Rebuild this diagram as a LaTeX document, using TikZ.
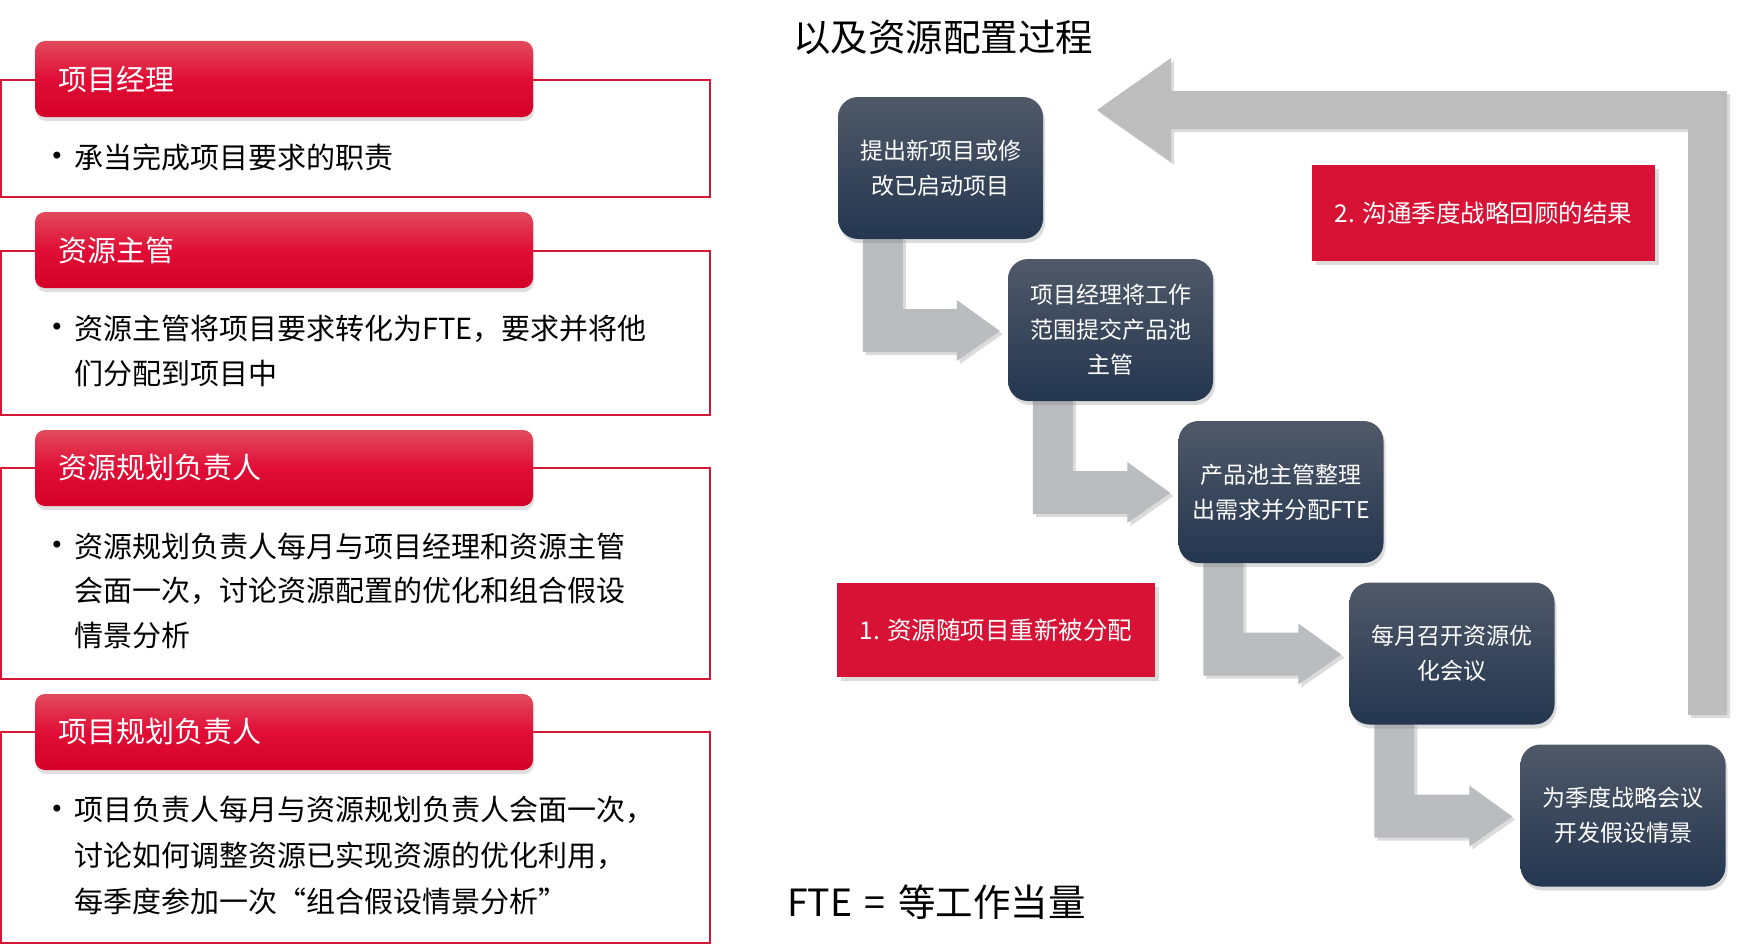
\documentclass[tikz,border=0pt]{standalone}
\usepackage{fontspec}
\setmainfont{Noto Sans CJK SC}
\newfontfamily\dejavu{DejaVu Sans}
\usetikzlibrary{shadows,calc}
\pgfdeclarelayer{background}
\pgfsetlayers{background,main}
\definecolor{hdrtop}{RGB}{226,74,92}
\definecolor{hdrmid}{RGB}{224,14,54}
\definecolor{hdrbot}{RGB}{212,0,40}
\definecolor{boxtop}{RGB}{80,89,104}
\definecolor{boxbot}{RGB}{36,54,80}
\definecolor{labred}{RGB}{215,18,53}
\definecolor{panelred}{RGB}{210,24,52}
\definecolor{biggrey}{RGB}{189,189,189}
\definecolor{elbowgrey}{RGB}{187,188,191}
\tikzset{
  panelbox/.style={draw=panelred, line width=1.2pt, fill=white, inner sep=0},
  hdr/.style={rounded corners=10pt, top color=hdrtop, bottom color=hdrbot, middle color=hdrmid,
    inner sep=0, minimum width=498pt, minimum height=76pt,
    drop shadow={shadow xshift=1pt, shadow yshift=-4pt, opacity=.25}},
  hdrtext/.style={inner sep=0, anchor=west, text=white, font=\fontsize{29pt}{34pt}\selectfont},
  bodytext/.style={inner sep=0, anchor=west, text=black, font=\fontsize{29pt}{34pt}\selectfont},
  bulletdot/.style={inner sep=0, text=black, font=\dejavu\fontsize{24pt}{28pt}\selectfont},
  dbox/.style={rounded corners=20pt, top color=boxtop, bottom color=boxbot, inner sep=0,
    minimum width=205pt, minimum height=142pt, text=white, align=center,
    font=\fontsize{23pt}{35pt}\selectfont,
    drop shadow={shadow xshift=2pt, shadow yshift=-4pt, opacity=.28}},
  labbox/.style={fill=labred, inner sep=0, text=white, align=center,
    font=\fontsize{24.5pt}{30pt}\selectfont,
    drop shadow={shadow xshift=4pt, shadow yshift=-4pt, opacity=.28}},
  bigtext/.style={inner sep=0, anchor=west, text=black, font=\fontsize{37.5pt}{44pt}\selectfont},
  greyshadow/.style={drop shadow={shadow xshift=3pt, shadow yshift=-3pt, opacity=.28}}
}
\newcommand\myelbow[2]{%
  \fill[elbowgrey, greyshadow] let \p1=(#1.south west), \p2=(#2.west) in
    (\x1+25pt,\y1+2pt) -- (\x1+65pt,\y1+2pt) -- (\x1+65pt,\y2+21pt) --
    (\x2-51pt,\y2+21pt) -- (\x2-51pt,\y2+30pt) -- (\x2-8pt,\y2-1pt) --
    (\x2-51pt,\y2-31pt) -- (\x2-51pt,\y2-22pt) -- (\x1+25pt,\y2-22pt) -- cycle;}
\begin{document}
\begin{tikzpicture}[x=1pt,y=-1pt]
\useasboundingbox (0,0) rectangle (1740,950);
\begin{pgfonlayer}{background}
\fill[white] (0,0) rectangle (1740,950);
\end{pgfonlayer}

% ---------- left panels ----------
\node[panelbox, minimum width=709pt, minimum height=117pt] (p1) at (355.5,138.5) {};
\node[hdr] (h1) at (284,79) {};
\node[hdrtext] (h1t) at (58,79) {项目经理};
\node[bulletdot] (p1d) at (57,158) {•};
\node[bodytext] (p1l1) at (74,157) {承当完成项目要求的职责};

\node[panelbox, minimum width=709pt, minimum height=164pt] (p2) at (355.5,333) {};
\node[hdr] (h2) at (284,250) {};
\node[hdrtext] (h2t) at (58,250) {资源主管};
\node[bulletdot] (p2d) at (57,329.5) {•};
\node[bodytext] (p2l1) at (74,328.5) {资源主管将项目要求转化为FTE，要求并将他};
\node[bodytext] (p2l2) at (74,373.5) {们分配到项目中};

\node[panelbox, minimum width=709pt, minimum height=211pt] (p3) at (355.5,573.5) {};
\node[hdr] (h3) at (284,468) {};
\node[hdrtext] (h3t) at (58,468) {资源规划负责人};
\node[bulletdot] (p3d) at (57,547) {•};
\node[bodytext] (p3l1) at (74,546) {资源规划负责人每月与项目经理和资源主管};
\node[bodytext] (p3l2) at (74,591) {会面一次，讨论资源配置的优化和组合假设};
\node[bodytext] (p3l3) at (74,636) {情景分析};

\node[panelbox, minimum width=709pt, minimum height=211pt] (p4) at (355.5,837.5) {};
\node[hdr] (h4) at (284,732) {};
\node[hdrtext] (h4t) at (58,732) {项目规划负责人};
\node[bulletdot] (p4d) at (57,811) {•};
\node[bodytext] (p4l1) at (74,810) {项目负责人每月与资源规划负责人会面一次，};
\node[bodytext] (p4l2) at (74,855.5) {讨论如何调整资源已实现资源的优化利用，};
\node[bodytext] (p4l3) at (74,901) {每季度参加一次“组合假设情景分析”};

% ---------- right side ----------
\node[bigtext] (title) at (793,37) {以及资源配置过程};
\node[bigtext] (fte) at (787,902) {FTE\,\,=\,\,等工作当量};

% big return arrow
\fill[biggrey, greyshadow] (1097,110) -- (1171,58) -- (1171,91) -- (1727,91) -- (1727,715)
  -- (1688,715) -- (1688,129) -- (1171,129) -- (1171,162) -- cycle;

% process boxes
\node[dbox] (b1) at (940.5,168) {提出新项目或修\\改已启动项目};
\node[dbox] (b2) at (1110.5,330) {项目经理将工作\\范围提交产品池\\主管};
\node[dbox] (b3) at (1281,492) {产品池主管整理\\出需求并分配FTE};
\node[dbox] (b4) at (1452,653.5) {每月召开资源优\\化会议};
\node[dbox] (b5) at (1623,815.5) {为季度战略会议\\开发假设情景};

% elbow arrows behind the boxes
\begin{pgfonlayer}{background}
\myelbow{b1}{b2}
\myelbow{b2}{b3}
\myelbow{b3}{b4}
\myelbow{b4}{b5}
\end{pgfonlayer}

% red labels
\node[labbox, minimum width=318pt, minimum height=94pt] (lab1) at (996,630) {1. 资源随项目重新被分配};
\node[labbox, minimum width=343pt, minimum height=96pt] (lab2) at (1483.5,213) {2. 沟通季度战略回顾的结果};
\end{tikzpicture}
\end{document}
